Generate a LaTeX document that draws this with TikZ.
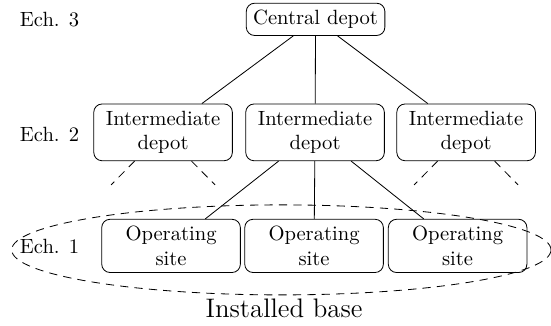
\documentclass[tikz,border=0pt]{standalone}
\usepackage{amsmath}
\usepackage{amssymb}
\usepackage{xcolor}
\usetikzlibrary{shapes.geometric}

\begin{document}
\begin{tikzpicture}[box/.style={draw, rounded corners, align=center, text width=2.13cm},
        dashline/.style={dash pattern=on 4pt off 3pt}]
        \useasboundingbox (0,0) rectangle (9.40,5.56);
        % echelon labels
        \node(e3) at (0.845,5.222) {Ech. 3};
        \node(e2) at (0.845,3.268) {Ech. 2};
        \node(e1) at (0.845,1.357) {Ech. 1};
        % depots and sites
        \node[draw, rounded corners](c) at (5.384,5.230) {Central depot};
        \node[box](i1) at (2.782,3.302) {Intermediate\\depot};
        \node[box](i2) at (5.375,3.302) {Intermediate\\depot};
        \node[box](i3) at (7.952,3.302) {Intermediate\\depot};
        \node[box](s1) at (2.918,1.365) {Operating\\site};
        \node[box](s2) at (5.358,1.365) {Operating\\site};
        \node[box](s3) at (7.807,1.365) {Operating\\site};
        % installed base
        \node[draw, dashline, ellipse, minimum width=9.2cm, minimum height=1.536cm](b) at (4.80,1.297) {};
        \node(t) at (4.846,0.307) {\fontsize{13}{15}\selectfont Installed base};
        \coordinate(i1l) at (1.895,2.406);
        \coordinate(i1r) at (3.669,2.406);
        \coordinate(i3l) at (7.065,2.406);
        \coordinate(i3r) at (8.839,2.406);
        \draw(c)--(i1);
        \draw(c)--(i2);
        \draw(c)--(i3);
        \draw(i2)--(s1);
        \draw(i2)--(s2);
        \draw(i2)--(s3);
        \draw[dashline](i1)--(i1l);
        \draw[dashline](i1)--(i1r);
        \draw[dashline](i3)--(i3l);
        \draw[dashline](i3)--(i3r);
\end{tikzpicture}
\end{document}
